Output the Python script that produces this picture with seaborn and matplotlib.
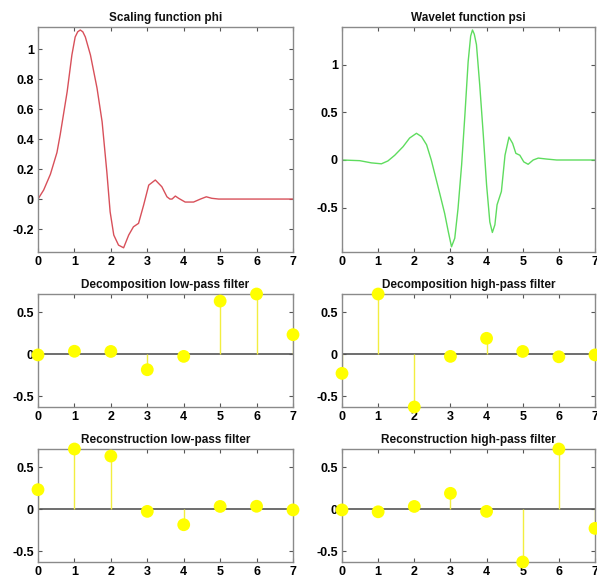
import numpy as np
import pandas as pd
import matplotlib
matplotlib.use("Agg")
import matplotlib.pyplot as plt
import seaborn as sns

sns.set_theme(style="white")
plt.rcParams['font.family'] = ['Liberation Sans', 'DejaVu Sans']

# Scaling function phi
phi_x = [0, 0.155, 0.34, 0.52, 0.61, 0.80, 0.93, 1.02, 1.09, 1.16, 1.23, 1.30, 1.44, 1.62, 1.76,
         1.89, 1.98, 2.08, 2.21, 2.35, 2.49, 2.62, 2.76, 2.90, 3.04, 3.22, 3.40, 3.54, 3.62, 3.68,
         3.77, 3.86, 4.04, 4.27, 4.46, 4.62, 4.77, 4.96, 7.0]
phi_y = [0, 0.06, 0.165, 0.31, 0.43, 0.715, 0.96, 1.08, 1.115, 1.127, 1.115, 1.08, 0.96, 0.74, 0.515,
         0.18, -0.085, -0.24, -0.307, -0.325, -0.24, -0.185, -0.162, -0.04, 0.093, 0.127, 0.082, 0.015, 0.0, 0.0,
         0.02, 0.005, -0.02, -0.02, 0.0, 0.015, 0.005, 0.0, 0.0]

# Wavelet function psi
psi_x = [0, 0.49, 0.81, 1.09, 1.27, 1.46, 1.69, 1.87, 2.06, 2.20, 2.34, 2.47, 2.59, 2.71, 2.84,
         2.94, 3.03, 3.12, 3.21, 3.31, 3.40, 3.49, 3.56, 3.61, 3.66, 3.72, 3.81, 3.91, 4.00, 4.09,
         4.16, 4.23, 4.29, 4.41, 4.51, 4.62, 4.72, 4.81, 4.92, 5.03, 5.15, 5.29, 5.43, 5.66, 5.94,
         7.0]
psi_y = [0, -0.007, -0.03, -0.04, -0.01, 0.05, 0.14, 0.23, 0.28, 0.245, 0.16, 0.0, -0.18, -0.36, -0.56,
         -0.75, -0.91, -0.82, -0.51, -0.05, 0.47, 1.03, 1.30, 1.364, 1.32, 1.21, 0.79, 0.26, -0.26, -0.65,
         -0.76, -0.68, -0.47, -0.33, 0.05, 0.24, 0.175, 0.07, 0.05, -0.02, -0.045, 0.0, 0.02, 0.01, 0.0,
         0.0]

# Filters
taps = [0, 1, 2, 3, 4, 5, 6, 7]
lo_d = [-0.0106, 0.0329, 0.0308, -0.1870, -0.0280, 0.6309, 0.7148, 0.2304]
hi_d = [-0.2304, 0.7148, -0.6309, -0.0280, 0.1870, 0.0308, -0.0329, -0.0106]
lo_r = [0.2304, 0.7148, 0.6309, -0.0280, -0.1870, 0.0308, 0.0329, -0.0106]
hi_r = [-0.0106, -0.0329, 0.0308, 0.1870, -0.0280, -0.6309, 0.7148, -0.2304]

titles = ["Scaling function phi", "Wavelet function psi",
          "Decomposition low-pass filter", "Decomposition high-pass filter",
          "Reconstruction low-pass filter", "Reconstruction high-pass filter"]

W, H = 597, 583
fig = plt.figure(figsize=(W / 100, H / 100), dpi=100)

def rect(x0, x1, y0, y1):
    return [x0 / W, (H - y1) / H, (x1 - x0) / W, (y1 - y0) / H]

cols = [(38, 293), (342, 595)]
rows = [(27, 252), (294, 407), (449, 562)]

spine_col = "#8a8a8a"

def style(ax, title):
    for s in ax.spines.values():
        s.set_color(spine_col)
        s.set_linewidth(1.0)
        s.set_visible(True)
    ax.tick_params(direction='in', length=3, width=0.8, color="#555555",
                   top=True, right=True, bottom=True, left=True, pad=3,
                   labelsize=9, labelcolor='black')
    for lab in ax.get_xticklabels() + ax.get_yticklabels():
        lab.set_fontweight('bold')
    ax.set_title(title, fontsize=8.5, fontweight='bold', pad=4, color='#111111')
    ax.set_xlabel("")
    ax.set_ylabel("")
    ax.grid(False)

# Top-left phi
ax = fig.add_axes(rect(*cols[0], *rows[0]))
sns.lineplot(x=phi_x, y=phi_y, ax=ax, color="#d8505a", linewidth=1.0)
ax.set_xlim(0, 7)
ax.set_ylim(-0.353, 1.147)
ax.set_xticks(range(8))
ax.set_yticks([-0.2, 0, 0.2, 0.4, 0.6, 0.8, 1])
ax.set_yticklabels(["-0.2", "0", "0.2", "0.4", "0.6", "0.8", "1"])
style(ax, titles[0])

# Top-right psi
ax = fig.add_axes(rect(*cols[1], *rows[0]))
sns.lineplot(x=psi_x, y=psi_y, ax=ax, color="#5edc5e", linewidth=1.0)
ax.set_xlim(0, 7)
ax.set_ylim(-0.965, 1.395)
ax.set_xticks(range(8))
ax.set_yticks([-0.5, 0, 0.5, 1])
ax.set_yticklabels(["-0.5", "0", "0.5", "1"])
style(ax, titles[1])

filters = [lo_d, hi_d, lo_r, hi_r]
positions = [(cols[0], rows[1]), (cols[1], rows[1]), (cols[0], rows[2]), (cols[1], rows[2])]
for i, (vals, (c, r)) in enumerate(zip(filters, positions)):
    ax = fig.add_axes(rect(*c, *r))
    df = pd.DataFrame({"n": taps, "v": vals})
    ax.axhline(0, color="#555555", linewidth=1.2, zorder=1)
    ax.vlines(df["n"], 0, df["v"], color="#f2ee40", linewidth=1.0, zorder=2)
    sns.scatterplot(data=df, x="n", y="v", ax=ax, color="#ffff00", s=85,
                    edgecolor="none", zorder=3, clip_on=False)
    ax.set_xlim(0, 7)
    ax.set_ylim(-0.631, 0.715)
    ax.set_xticks(range(8))
    ax.set_yticks([-0.5, 0, 0.5])
    ax.set_yticklabels(["-0.5", "0", "0.5"])
    style(ax, titles[i + 2])

fig.savefig("out.png", dpi=100)
